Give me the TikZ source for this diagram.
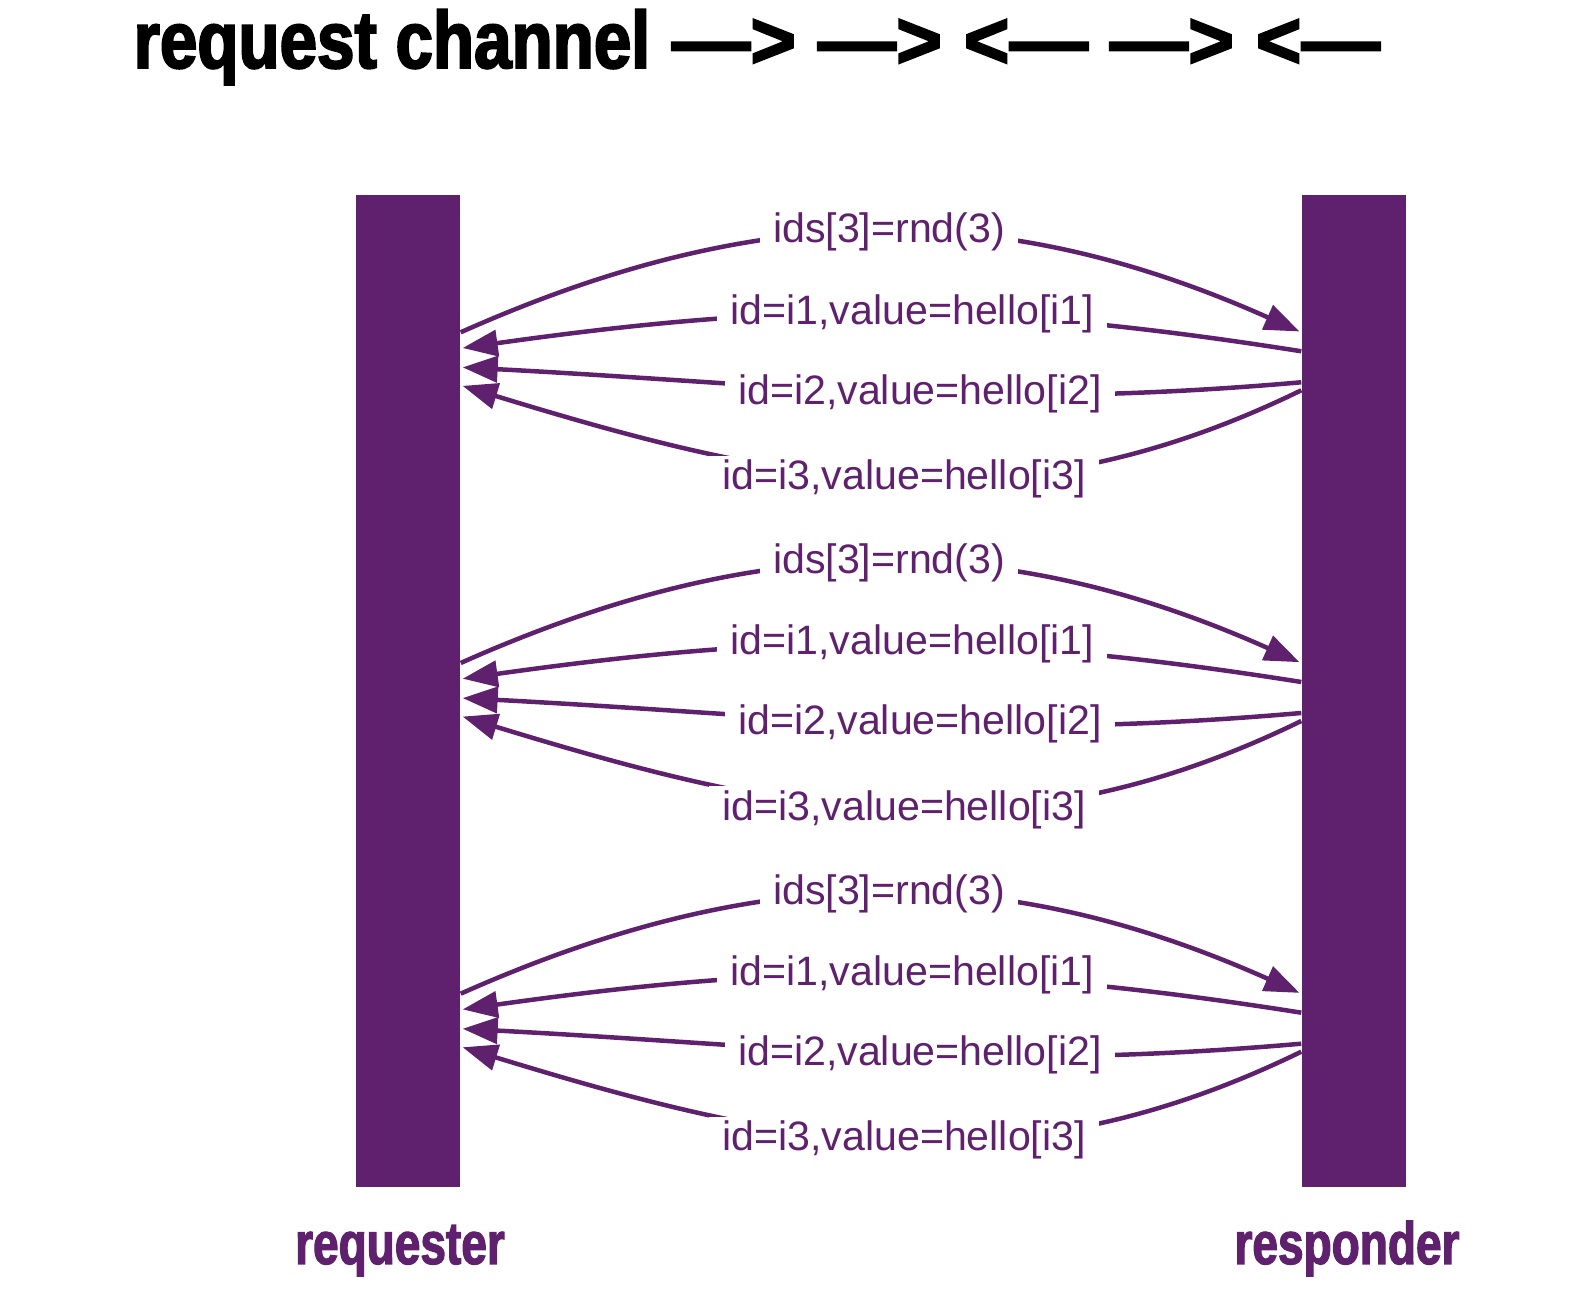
\documentclass[tikz,border=0pt]{standalone}
\usepackage{fontspec}
\setmainfont{Liberation Sans}
\newfontfamily\headfont[FakeStretch=0.833,FakeBold=2.5]{Liberation Sans}
\newfontfamily\arrowfont[FakeStretch=0.97,FakeBold=2.5]{Liberation Sans}
\newfontfamily\namefont[FakeStretch=0.77,FakeBold=2]{Liberation Sans}
\usepackage{tikz}
\usetikzlibrary{arrows.meta, positioning, calc}
\definecolor{chanpurple}{RGB}{95,33,110}
\tikzset{
  bar/.style={rectangle, fill=chanpurple, minimum width=10.4mm,
    minimum height=33.07mm, inner sep=0pt},
  msg/.style={-{Triangle[length=3.5mm, width=2.6mm]}, line width=0.45mm,
    color=chanpurple, shorten >=0.2mm},
  msglabel/.style={fill=white, text=chanpurple,
    font=\fontsize{11.7}{14}\selectfont, inner xsep=1.3mm, inner ysep=0.4mm},
  side/.style={text=chanpurple, inner sep=0pt,
    font=\namefont\bfseries\fontsize{17}{20}\selectfont}
}

\begin{document}
\begin{tikzpicture}[x=0.1mm, y=0.1mm]
  \useasboundingbox (0,0) rectangle (1594,1292);

  % Title
  \node[anchor=base west, inner sep=0pt,
    font=\bfseries\fontsize{23}{27}\selectfont] (title) at (133,1224)
    {\headfont request channel\arrowfont\ —> —> <— —> <—};

  % Bars
  \node[bar] (req1) at (408,931.7) {};
  \node[bar] (req2) at (408,601) {};
  \node[bar] (req3) at (408,270.3) {};
  \node[bar] (resp1) at (1354,931.7) {};
  \node[bar] (resp2) at (1354,601) {};
  \node[bar] (resp3) at (1354,270.3) {};

  % Round 1
  \draw[msg] ($(req1.east)+(0,28)$) to[out=24, in=156] node[msglabel, pos=0.51] {ids[3]=rnd(3)} ($(resp1.west)+(0,28)$);
  \draw[msg] ($(resp1.west)+(0,9)$) to[out=171, in=8] node[msglabel, pos=0.46] {id=i1,value=hello[i1]} ($(req1.east)+(0,12)$);
  \draw[msg] ($(resp1.west)+(0,-22)$) to[out=185, in=-3] node[msglabel, pos=0.45] {id=i2,value=hello[i2]} ($(req1.east)+(0,-7)$);
  \draw[msg] ($(resp1.west)+(0,-30)$) to[out=206, in=-17] node[msglabel, pos=0.48] {id=i3,value=hello[i3]} ($(req1.east)+(0,-25)$);

  % Round 2
  \draw[msg] ($(req2.east)+(0,28)$) to[out=24, in=156] node[msglabel, pos=0.51] {ids[3]=rnd(3)} ($(resp2.west)+(0,28)$);
  \draw[msg] ($(resp2.west)+(0,9)$) to[out=171, in=8] node[msglabel, pos=0.46] {id=i1,value=hello[i1]} ($(req2.east)+(0,12)$);
  \draw[msg] ($(resp2.west)+(0,-22)$) to[out=185, in=-3] node[msglabel, pos=0.45] {id=i2,value=hello[i2]} ($(req2.east)+(0,-7)$);
  \draw[msg] ($(resp2.west)+(0,-30)$) to[out=206, in=-17] node[msglabel, pos=0.48] {id=i3,value=hello[i3]} ($(req2.east)+(0,-25)$);

  % Round 3
  \draw[msg] ($(req3.east)+(0,28)$) to[out=24, in=156] node[msglabel, pos=0.51] {ids[3]=rnd(3)} ($(resp3.west)+(0,28)$);
  \draw[msg] ($(resp3.west)+(0,9)$) to[out=171, in=8] node[msglabel, pos=0.46] {id=i1,value=hello[i1]} ($(req3.east)+(0,12)$);
  \draw[msg] ($(resp3.west)+(0,-22)$) to[out=185, in=-3] node[msglabel, pos=0.45] {id=i2,value=hello[i2]} ($(req3.east)+(0,-7)$);
  \draw[msg] ($(resp3.west)+(0,-30)$) to[out=206, in=-17] node[msglabel, pos=0.48] {id=i3,value=hello[i3]} ($(req3.east)+(0,-25)$);

  % Names
  \node[side, anchor=base] (reqname) at (400,28) {requester};
  \node[side, anchor=base] (respname) at (1347,28) {responder};

\end{tikzpicture}
\end{document}
